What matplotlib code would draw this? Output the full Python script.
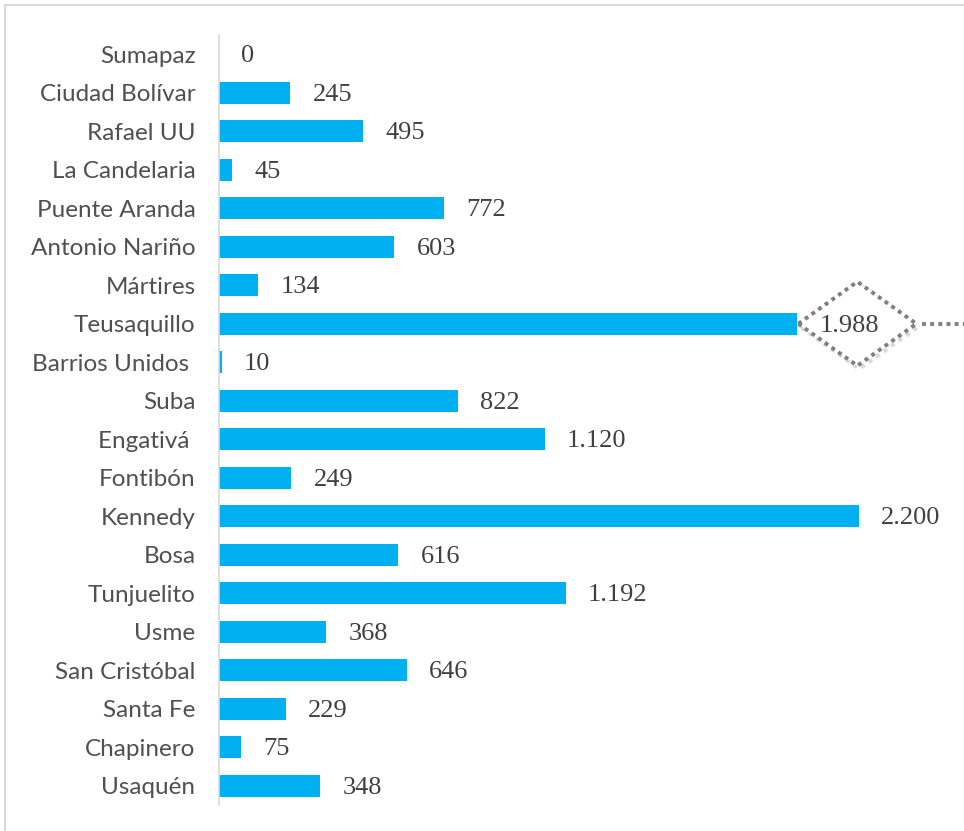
import matplotlib
matplotlib.use('Agg')
import matplotlib.pyplot as plt
import matplotlib.transforms as mtransforms
from matplotlib.patches import Polygon
from matplotlib.lines import Line2D

# localidades, de arriba hacia abajo como en la figura
localidades = ['Sumapaz', 'Ciudad Bolívar', 'Rafael UU', 'La Candelaria', 'Puente Aranda',
               'Antonio Nariño', 'Mártires', 'Teusaquillo', 'Barrios Unidos ', 'Suba',
               'Engativá ', 'Fontibón', 'Kennedy', 'Bosa', 'Tunjuelito', 'Usme',
               'San Cristóbal', 'Santa Fe', 'Chapinero', 'Usaquén']
valores = [0, 245, 495, 45, 772, 603, 134, 1988, 10, 822,
           1120, 249, 2200, 616, 1192, 368, 646, 229, 75, 348]
resaltado = 'Teusaquillo'

W, H = 964, 831
fig = plt.figure(figsize=(W/100, H/100), dpi=100)
ax = fig.add_axes([219/W, 1-805/H, (W-219)/W, 770/H])

n = len(valores)
ypos = [n-1-i for i in range(n)]
ax.barh(ypos, valores, height=0.57, color='#00B0F0')
ax.set_ylim(-0.5, n-0.5)
ax.set_xlim(0, (W-219)/((859-219)/2200.0))

ax.set_yticks(ypos)
ax.set_yticklabels(localidades, fontsize=17.5, family='Lato', color='#505050')
ax.tick_params(axis='y', length=0, pad=17)
ax.set_xticks([])
for s in ['top', 'right', 'bottom']:
    ax.spines[s].set_visible(False)
ax.spines['left'].set_color('#D9D9D9')
ax.spines['left'].set_linewidth(1.2)

def fmt(v):
    return '{:,}'.format(v).replace(',', '.')

for y, v, nom in zip(ypos, valores, localidades):
    ax.annotate(fmt(v), (v, y), xytext=(16, -1.5), textcoords='offset points',
                ha='left', va='center', fontsize=19, family='Liberation Serif',
                color='#404040', zorder=5)

# rombo punteado alrededor del valor resaltado
i = localidades.index(resaltado)
v = valores[i]
y = ypos[i]
tr = fig.dpi_scale_trans + mtransforms.ScaledTranslation(v, y, ax.transData)
dx0 = 0.60
hw, hh = 0.59, 0.42
rombo = [(dx0-hw, 0), (dx0, hh), (dx0+hw, 0), (dx0, -hh)]
sombra = Polygon([(px+0.02, py-0.03) for px, py in rombo], closed=True, fill=False,
                 edgecolor='#dadada', lw=3, linestyle=(0, (1, 1.2)), transform=tr,
                 clip_on=False, zorder=3)
ax.add_patch(sombra)
ax.add_patch(Polygon(rombo, closed=True, facecolor='white', edgecolor='#7f7f7f', lw=2.8,
                     linestyle=(0, (1, 1.1)), transform=tr, clip_on=False, zorder=4))
ax.add_line(Line2D([dx0+hw+0.06, 2.0], [0, 0], color='#7f7f7f', lw=2.8,
                   linestyle=(0, (1, 1.1)), transform=tr, clip_on=False, zorder=4))

# borde gris de la figura
fig.add_artist(Line2D([5/W, 5/W], [0, 1-5/H], color='#D9D9D9', lw=1.5))
fig.add_artist(Line2D([5/W, 1], [1-5/H, 1-5/H], color='#D9D9D9', lw=1.5))

fig.savefig('out.png', dpi=100)
